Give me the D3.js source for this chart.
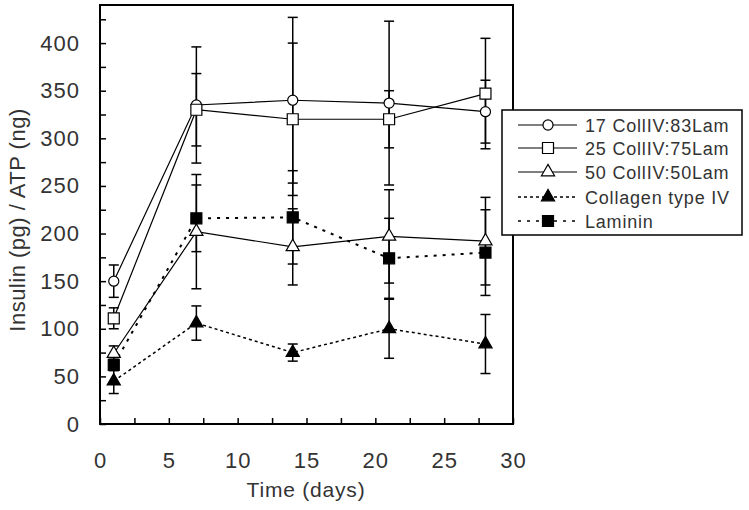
<!DOCTYPE html>
<html><head><meta charset="utf-8">
<script src="https://cdn.jsdelivr.net/npm/d3@7/dist/d3.min.js"></script>
<style>
body{margin:0;background:#fff;}
text{font-family:Arial,"Liberation Sans",sans-serif;fill:#333;}
</style></head>
<body><svg id="c" width="749" height="510"></svg>
<script>
const days = [1, 7, 14, 21, 28];
const seriesNames = ["17 CollIV:83Lam", "25 CollIV:75Lam", "50 CollIV:50Lam", "Collagen type IV", "Laminin"];
const s17 = [150, 335, 340, 337, 328];
const e17 = [17, 61, 87, 86, 33];
const s25 = [111, 330, 320, 320, 347];
const e25 = [11, 38, 80, 30, 58];
const s50 = [74, 202, 186, 197, 192];
const e50 = [8, 60, 40, 49, 46];
const sCol = [45, 106, 75, 100, 84];
const eCol = [13, 18, 9, 31, 31];
const sLam = [62, 216, 217, 174, 180];
const eLam = [6, 35, 49, 42, 45];
const yTicks = [0, 50, 100, 150, 200, 250, 300, 350, 400];
const xTicks = [0, 5, 10, 15, 20, 25, 30];

const series = [
  {name: seriesNames[0], v: s17, e: e17, sym: d3.symbolCircle, size: 80, fill: "#fff", dash: null, lw: 1.2},
  {name: seriesNames[1], v: s25, e: e25, sym: d3.symbolSquare, size: 121, fill: "#fff", dash: null, lw: 1.2},
  {name: seriesNames[2], v: s50, e: e50, sym: d3.symbolTriangle, size: 75, fill: "#fff", dash: null, lw: 1.2},
  {name: seriesNames[3], v: sCol, e: eCol, sym: d3.symbolTriangle, size: 75, fill: "#000", dash: "3,3", lw: 1.5},
  {name: seriesNames[4], v: sLam, e: eLam, sym: d3.symbolSquare, size: 121, fill: "#000", dash: "3,6", lw: 2}
];

const svg = d3.select("#c");
const x = d3.scaleLinear().domain([0, 30]).range([100, 513]);
const y = d3.scaleLinear().domain([0, 440]).range([424, 5]);

svg.append("rect").attr("x", 100).attr("y", 5).attr("width", 413).attr("height", 419)
  .attr("fill", "none").attr("stroke", "#000").attr("stroke-width", 2);

const yAxis = d3.axisLeft(y).tickValues(d3.range(0, 426, 25)).tickSize(-6).tickPadding(20)
  .tickFormat(d => yTicks.includes(d) ? d : "");
const gy = svg.append("g").attr("transform", "translate(100,0)").call(yAxis);
const xAxis = d3.axisBottom(x).tickValues(d3.range(0, 30.01, 2.5)).tickSize(-6).tickPadding(28)
  .tickFormat(d => xTicks.includes(d) ? d : "");
const gx = svg.append("g").attr("transform", "translate(0,424)").call(xAxis);
[gx, gy].forEach(g => {
  g.select(".domain").remove();
  g.selectAll(".tick line").attr("stroke", "#000").attr("stroke-width", 1.5);
  g.selectAll(".tick text").attr("font-size", 22).attr("fill", "#333").style("letter-spacing", "1px")
    .attr("font-family", "Arial, 'Liberation Sans', sans-serif");
});

svg.append("text").attr("x", 306).attr("y", 497).attr("text-anchor", "middle")
  .attr("font-size", 21).style("letter-spacing", "0.8px").text("Time (days)");
svg.append("text").attr("transform", "translate(25,220) rotate(-90)").attr("text-anchor", "middle")
  .attr("font-size", 22).style("letter-spacing", "0.5px").text("Insulin (pg) / ATP (ng)");

const line = d3.line().x((d, i) => x(days[i])).y(d => y(d));
series.forEach(s => {
  svg.append("path").datum(s.v).attr("d", line).attr("fill", "none")
    .attr("stroke", "#000").attr("stroke-width", s.lw)
    .attr("stroke-dasharray", s.dash);
});
series.forEach(s => {
  const g = svg.append("g").attr("stroke", "#000").attr("stroke-width", 1.5);
  s.v.forEach((v, i) => {
    const cx = x(days[i]);
    g.append("line").attr("x1", cx).attr("x2", cx).attr("y1", y(v + s.e[i])).attr("y2", y(v - s.e[i]));
    [v + s.e[i], v - s.e[i]].forEach(b => {
      g.append("line").attr("x1", cx - 5).attr("x2", cx + 5).attr("y1", y(b)).attr("y2", y(b));
    });
  });
});
series.forEach(s => {
  const sym = d3.symbol().type(s.sym).size(s.size);
  s.v.forEach((v, i) => {
    svg.append("path").attr("d", sym()).attr("transform", `translate(${x(days[i])},${y(v)})`)
      .attr("fill", s.fill).attr("stroke", "#000").attr("stroke-width", 1.2);
  });
});

const lg = svg.append("g");
lg.append("rect").attr("x", 502).attr("y", 110).attr("width", 240).attr("height", 125)
  .attr("fill", "#fff").attr("stroke", "#000").attr("stroke-width", 1.5);
const rowY = [125, 148, 172, 197, 221];
series.forEach((s, i) => {
  const yy = rowY[i];
  lg.append("line").attr("x1", 518).attr("x2", 577).attr("y1", yy).attr("y2", yy)
    .attr("stroke", "#000").attr("stroke-width", s.dash ? 1.5 : 1.2).attr("stroke-dasharray", s.dash);
  lg.append("path").attr("d", d3.symbol().type(s.sym).size(s.size)()).attr("transform", `translate(548,${yy})`)
    .attr("fill", s.fill).attr("stroke", "#000").attr("stroke-width", 1.2);
  lg.append("text").attr("x", 585).attr("y", yy + 7).attr("font-size", 18)
    .style("letter-spacing", "0.8px").text(s.name);
});
</script></body></html>
